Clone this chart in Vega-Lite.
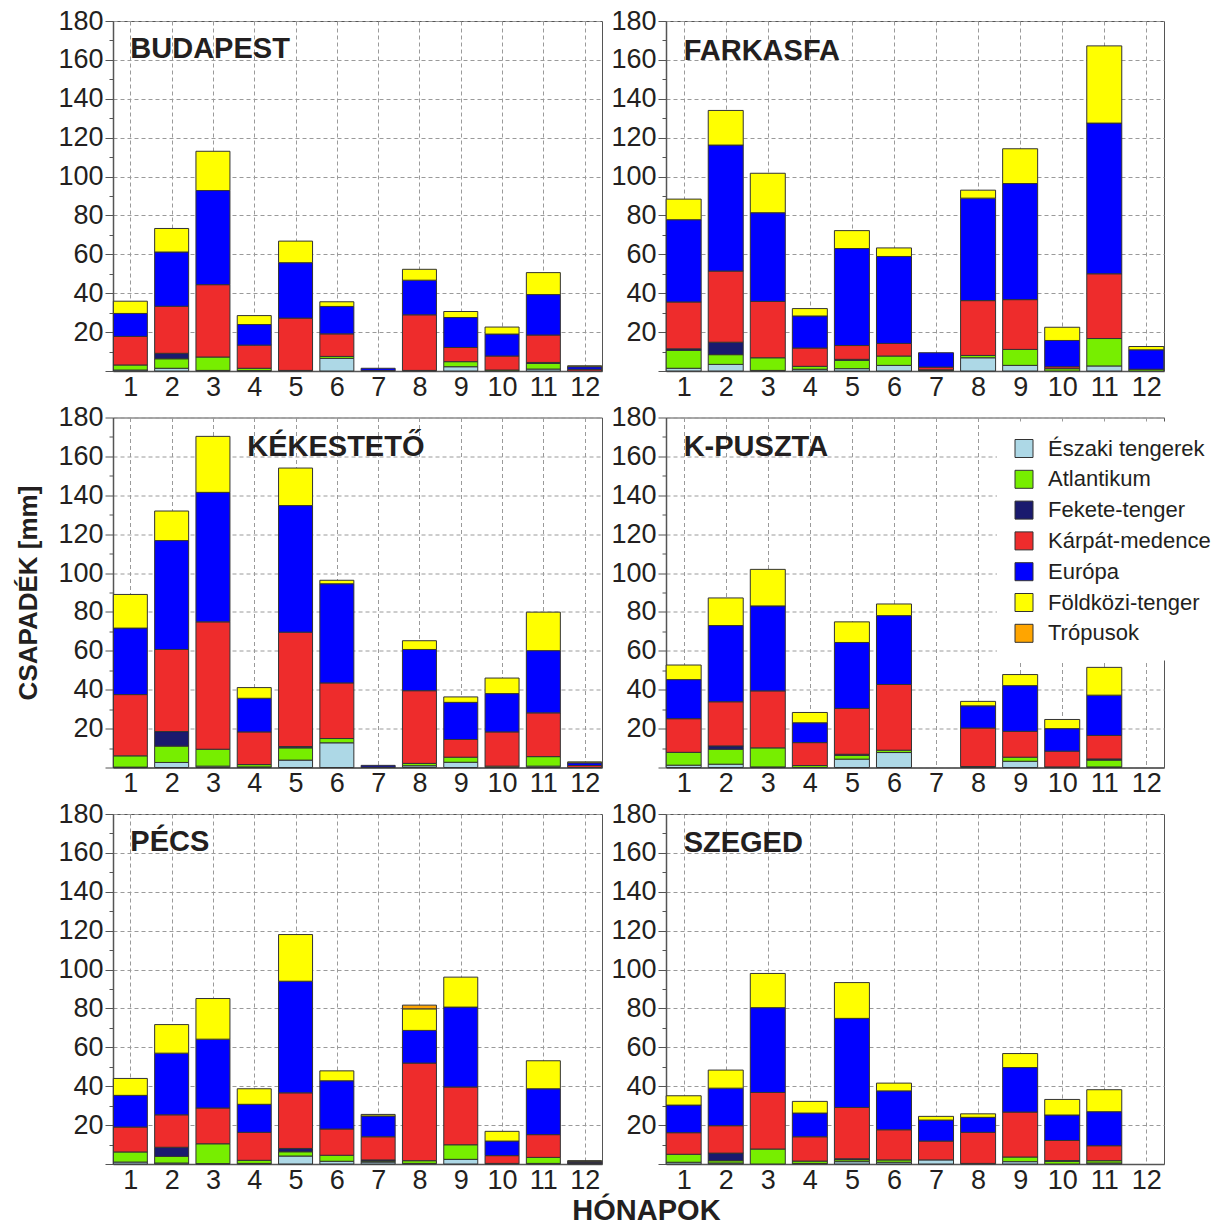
{
"$schema":"https://vega.github.io/schema/vega-lite/v6.json",
"padding":{"left":15,"top":6,"right":0,"bottom":0},
"background":"white",
"title":{"text":"HÓNAPOK","orient":"bottom","anchor":"middle","font":"Liberation Sans","fontSize":29,"fontWeight":"bold","color":"#231f20","offset":3,"dx":25},
"datasets":{
"srcs":[{"src":"Északi tengerek","k":1},{"src":"Atlantikum","k":2},{"src":"Fekete-tenger","k":3},{"src":"Kárpát-medence","k":4},{"src":"Európa","k":5},{"src":"Földközi-tenger","k":6},{"src":"Trópusok","k":7}],
"d":[
{"st":"BUDAPEST","m":1,"src":"Északi tengerek","mm":0.5},{"st":"BUDAPEST","m":1,"src":"Atlantikum","mm":2.6},{"st":"BUDAPEST","m":1,"src":"Kárpát-medence","mm":14.7},{"st":"BUDAPEST","m":1,"src":"Európa","mm":11.8},{"st":"BUDAPEST","m":1,"src":"Földközi-tenger","mm":6.3},
{"st":"BUDAPEST","m":2,"src":"Északi tengerek","mm":1.4},{"st":"BUDAPEST","m":2,"src":"Atlantikum","mm":4.9},{"st":"BUDAPEST","m":2,"src":"Fekete-tenger","mm":2.8},{"st":"BUDAPEST","m":2,"src":"Kárpát-medence","mm":24.2},{"st":"BUDAPEST","m":2,"src":"Európa","mm":27.9},{"st":"BUDAPEST","m":2,"src":"Földközi-tenger","mm":12.1},
{"st":"BUDAPEST","m":3,"src":"Északi tengerek","mm":0.3},{"st":"BUDAPEST","m":3,"src":"Atlantikum","mm":6.9},{"st":"BUDAPEST","m":3,"src":"Kárpát-medence","mm":37.2},{"st":"BUDAPEST","m":3,"src":"Európa","mm":48.4},{"st":"BUDAPEST","m":3,"src":"Földközi-tenger","mm":20.2},
{"st":"BUDAPEST","m":4,"src":"Északi tengerek","mm":0.2},{"st":"BUDAPEST","m":4,"src":"Atlantikum","mm":1.2},{"st":"BUDAPEST","m":4,"src":"Kárpát-medence","mm":11.9},{"st":"BUDAPEST","m":4,"src":"Európa","mm":10.6},{"st":"BUDAPEST","m":4,"src":"Földközi-tenger","mm":4.6},
{"st":"BUDAPEST","m":5,"src":"Atlantikum","mm":0.3},{"st":"BUDAPEST","m":5,"src":"Kárpát-medence","mm":26.9},{"st":"BUDAPEST","m":5,"src":"Európa","mm":28.5},{"st":"BUDAPEST","m":5,"src":"Földközi-tenger","mm":11.1},
{"st":"BUDAPEST","m":6,"src":"Északi tengerek","mm":6.5},{"st":"BUDAPEST","m":6,"src":"Atlantikum","mm":1.0},{"st":"BUDAPEST","m":6,"src":"Kárpát-medence","mm":11.6},{"st":"BUDAPEST","m":6,"src":"Európa","mm":14.1},{"st":"BUDAPEST","m":6,"src":"Földközi-tenger","mm":2.4},
{"st":"BUDAPEST","m":7,"src":"Kárpát-medence","mm":0.3},{"st":"BUDAPEST","m":7,"src":"Európa","mm":1.1},
{"st":"BUDAPEST","m":8,"src":"Atlantikum","mm":0.3},{"st":"BUDAPEST","m":8,"src":"Kárpát-medence","mm":28.6},{"st":"BUDAPEST","m":8,"src":"Európa","mm":17.8},{"st":"BUDAPEST","m":8,"src":"Földközi-tenger","mm":5.6},
{"st":"BUDAPEST","m":9,"src":"Északi tengerek","mm":2.2},{"st":"BUDAPEST","m":9,"src":"Atlantikum","mm":2.6},{"st":"BUDAPEST","m":9,"src":"Kárpát-medence","mm":7.3},{"st":"BUDAPEST","m":9,"src":"Európa","mm":15.4},{"st":"BUDAPEST","m":9,"src":"Földközi-tenger","mm":3.1},
{"st":"BUDAPEST","m":10,"src":"Atlantikum","mm":0.5},{"st":"BUDAPEST","m":10,"src":"Kárpát-medence","mm":7.2},{"st":"BUDAPEST","m":10,"src":"Európa","mm":11.3},{"st":"BUDAPEST","m":10,"src":"Földközi-tenger","mm":3.6},
{"st":"BUDAPEST","m":11,"src":"Északi tengerek","mm":1.0},{"st":"BUDAPEST","m":11,"src":"Atlantikum","mm":2.9},{"st":"BUDAPEST","m":11,"src":"Fekete-tenger","mm":0.5},{"st":"BUDAPEST","m":11,"src":"Kárpát-medence","mm":14.1},{"st":"BUDAPEST","m":11,"src":"Európa","mm":20.8},{"st":"BUDAPEST","m":11,"src":"Földközi-tenger","mm":11.3},
{"st":"BUDAPEST","m":12,"src":"Kárpát-medence","mm":0.9},{"st":"BUDAPEST","m":12,"src":"Európa","mm":1.3},{"st":"BUDAPEST","m":12,"src":"Földközi-tenger","mm":0.5},
{"st":"FARKASFA","m":1,"src":"Északi tengerek","mm":1.4},{"st":"FARKASFA","m":1,"src":"Atlantikum","mm":9.2},{"st":"FARKASFA","m":1,"src":"Fekete-tenger","mm":0.8},{"st":"FARKASFA","m":1,"src":"Kárpát-medence","mm":24.1},{"st":"FARKASFA","m":1,"src":"Európa","mm":42.3},{"st":"FARKASFA","m":1,"src":"Földközi-tenger","mm":10.6},
{"st":"FARKASFA","m":2,"src":"Északi tengerek","mm":3.4},{"st":"FARKASFA","m":2,"src":"Atlantikum","mm":5.0},{"st":"FARKASFA","m":2,"src":"Fekete-tenger","mm":6.4},{"st":"FARKASFA","m":2,"src":"Kárpát-medence","mm":36.6},{"st":"FARKASFA","m":2,"src":"Európa","mm":64.8},{"st":"FARKASFA","m":2,"src":"Földközi-tenger","mm":17.8},
{"st":"FARKASFA","m":3,"src":"Északi tengerek","mm":0.3},{"st":"FARKASFA","m":3,"src":"Atlantikum","mm":6.5},{"st":"FARKASFA","m":3,"src":"Kárpát-medence","mm":29.0},{"st":"FARKASFA","m":3,"src":"Európa","mm":45.6},{"st":"FARKASFA","m":3,"src":"Földközi-tenger","mm":20.3},
{"st":"FARKASFA","m":4,"src":"Északi tengerek","mm":0.9},{"st":"FARKASFA","m":4,"src":"Atlantikum","mm":1.5},{"st":"FARKASFA","m":4,"src":"Kárpát-medence","mm":9.4},{"st":"FARKASFA","m":4,"src":"Európa","mm":16.5},{"st":"FARKASFA","m":4,"src":"Földközi-tenger","mm":3.8},
{"st":"FARKASFA","m":5,"src":"Északi tengerek","mm":1.2},{"st":"FARKASFA","m":5,"src":"Atlantikum","mm":4.3},{"st":"FARKASFA","m":5,"src":"Fekete-tenger","mm":0.5},{"st":"FARKASFA","m":5,"src":"Kárpát-medence","mm":7.1},{"st":"FARKASFA","m":5,"src":"Európa","mm":49.9},{"st":"FARKASFA","m":5,"src":"Földközi-tenger","mm":9.2},
{"st":"FARKASFA","m":6,"src":"Északi tengerek","mm":2.9},{"st":"FARKASFA","m":6,"src":"Atlantikum","mm":4.8},{"st":"FARKASFA","m":6,"src":"Kárpát-medence","mm":6.5},{"st":"FARKASFA","m":6,"src":"Európa","mm":44.7},{"st":"FARKASFA","m":6,"src":"Földközi-tenger","mm":4.4},
{"st":"FARKASFA","m":7,"src":"Északi tengerek","mm":0.3},{"st":"FARKASFA","m":7,"src":"Atlantikum","mm":0.3},{"st":"FARKASFA","m":7,"src":"Kárpát-medence","mm":1.4},{"st":"FARKASFA","m":7,"src":"Európa","mm":7.4},
{"st":"FARKASFA","m":8,"src":"Északi tengerek","mm":6.8},{"st":"FARKASFA","m":8,"src":"Atlantikum","mm":1.2},{"st":"FARKASFA","m":8,"src":"Kárpát-medence","mm":28.2},{"st":"FARKASFA","m":8,"src":"Európa","mm":52.7},{"st":"FARKASFA","m":8,"src":"Földközi-tenger","mm":4.1},
{"st":"FARKASFA","m":9,"src":"Északi tengerek","mm":2.9},{"st":"FARKASFA","m":9,"src":"Atlantikum","mm":8.2},{"st":"FARKASFA","m":9,"src":"Kárpát-medence","mm":25.6},{"st":"FARKASFA","m":9,"src":"Európa","mm":59.7},{"st":"FARKASFA","m":9,"src":"Földközi-tenger","mm":17.9},
{"st":"FARKASFA","m":10,"src":"Atlantikum","mm":1.2},{"st":"FARKASFA","m":10,"src":"Kárpát-medence","mm":1.0},{"st":"FARKASFA","m":10,"src":"Európa","mm":13.5},{"st":"FARKASFA","m":10,"src":"Földközi-tenger","mm":6.8},
{"st":"FARKASFA","m":11,"src":"Északi tengerek","mm":2.6},{"st":"FARKASFA","m":11,"src":"Atlantikum","mm":14.1},{"st":"FARKASFA","m":11,"src":"Kárpát-medence","mm":33.3},{"st":"FARKASFA","m":11,"src":"Európa","mm":77.5},{"st":"FARKASFA","m":11,"src":"Földközi-tenger","mm":39.7},
{"st":"FARKASFA","m":12,"src":"Atlantikum","mm":0.9},{"st":"FARKASFA","m":12,"src":"Európa","mm":10.0},{"st":"FARKASFA","m":12,"src":"Földközi-tenger","mm":1.7},
{"st":"KÉKESTETŐ","m":1,"src":"Északi tengerek","mm":0.2},{"st":"KÉKESTETŐ","m":1,"src":"Atlantikum","mm":5.8},{"st":"KÉKESTETŐ","m":1,"src":"Kárpát-medence","mm":31.5},{"st":"KÉKESTETŐ","m":1,"src":"Európa","mm":34.2},{"st":"KÉKESTETŐ","m":1,"src":"Földközi-tenger","mm":17.3},
{"st":"KÉKESTETŐ","m":2,"src":"Északi tengerek","mm":2.6},{"st":"KÉKESTETŐ","m":2,"src":"Atlantikum","mm":8.4},{"st":"KÉKESTETŐ","m":2,"src":"Fekete-tenger","mm":7.5},{"st":"KÉKESTETŐ","m":2,"src":"Kárpát-medence","mm":42.2},{"st":"KÉKESTETŐ","m":2,"src":"Európa","mm":56.0},{"st":"KÉKESTETŐ","m":2,"src":"Földközi-tenger","mm":15.2},
{"st":"KÉKESTETŐ","m":3,"src":"Északi tengerek","mm":0.7},{"st":"KÉKESTETŐ","m":3,"src":"Atlantikum","mm":8.7},{"st":"KÉKESTETŐ","m":3,"src":"Kárpát-medence","mm":65.5},{"st":"KÉKESTETŐ","m":3,"src":"Európa","mm":66.6},{"st":"KÉKESTETŐ","m":3,"src":"Földközi-tenger","mm":28.8},
{"st":"KÉKESTETŐ","m":4,"src":"Északi tengerek","mm":0.3},{"st":"KÉKESTETŐ","m":4,"src":"Atlantikum","mm":1.2},{"st":"KÉKESTETŐ","m":4,"src":"Kárpát-medence","mm":16.8},{"st":"KÉKESTETŐ","m":4,"src":"Európa","mm":17.3},{"st":"KÉKESTETŐ","m":4,"src":"Földközi-tenger","mm":5.5},
{"st":"KÉKESTETŐ","m":5,"src":"Északi tengerek","mm":3.8},{"st":"KÉKESTETŐ","m":5,"src":"Atlantikum","mm":6.3},{"st":"KÉKESTETŐ","m":5,"src":"Fekete-tenger","mm":0.7},{"st":"KÉKESTETŐ","m":5,"src":"Kárpát-medence","mm":58.8},{"st":"KÉKESTETŐ","m":5,"src":"Európa","mm":65.1},{"st":"KÉKESTETŐ","m":5,"src":"Földközi-tenger","mm":19.3},
{"st":"KÉKESTETŐ","m":6,"src":"Északi tengerek","mm":12.7},{"st":"KÉKESTETŐ","m":6,"src":"Atlantikum","mm":2.2},{"st":"KÉKESTETŐ","m":6,"src":"Kárpát-medence","mm":28.6},{"st":"KÉKESTETŐ","m":6,"src":"Európa","mm":51.0},{"st":"KÉKESTETŐ","m":6,"src":"Földközi-tenger","mm":1.8},
{"st":"KÉKESTETŐ","m":7,"src":"Fekete-tenger","mm":0.3},{"st":"KÉKESTETŐ","m":7,"src":"Európa","mm":0.8},
{"st":"KÉKESTETŐ","m":8,"src":"Északi tengerek","mm":0.9},{"st":"KÉKESTETŐ","m":8,"src":"Atlantikum","mm":1.2},{"st":"KÉKESTETŐ","m":8,"src":"Kárpát-medence","mm":37.4},{"st":"KÉKESTETŐ","m":8,"src":"Európa","mm":21.2},{"st":"KÉKESTETŐ","m":8,"src":"Földközi-tenger","mm":4.5},
{"st":"KÉKESTETŐ","m":9,"src":"Északi tengerek","mm":2.7},{"st":"KÉKESTETŐ","m":9,"src":"Atlantikum","mm":2.6},{"st":"KÉKESTETŐ","m":9,"src":"Kárpát-medence","mm":9.1},{"st":"KÉKESTETŐ","m":9,"src":"Európa","mm":19.1},{"st":"KÉKESTETŐ","m":9,"src":"Földközi-tenger","mm":2.8},
{"st":"KÉKESTETŐ","m":10,"src":"Atlantikum","mm":0.7},{"st":"KÉKESTETŐ","m":10,"src":"Kárpát-medence","mm":17.6},{"st":"KÉKESTETŐ","m":10,"src":"Európa","mm":19.7},{"st":"KÉKESTETŐ","m":10,"src":"Földközi-tenger","mm":8.0},
{"st":"KÉKESTETŐ","m":11,"src":"Északi tengerek","mm":0.7},{"st":"KÉKESTETŐ","m":11,"src":"Atlantikum","mm":4.9},{"st":"KÉKESTETŐ","m":11,"src":"Kárpát-medence","mm":22.5},{"st":"KÉKESTETŐ","m":11,"src":"Európa","mm":32.0},{"st":"KÉKESTETŐ","m":11,"src":"Földközi-tenger","mm":19.8},
{"st":"KÉKESTETŐ","m":12,"src":"Kárpát-medence","mm":1.0},{"st":"KÉKESTETŐ","m":12,"src":"Európa","mm":1.4},{"st":"KÉKESTETŐ","m":12,"src":"Földközi-tenger","mm":0.5},
{"st":"K-PUSZTA","m":1,"src":"Északi tengerek","mm":1.2},{"st":"K-PUSZTA","m":1,"src":"Atlantikum","mm":6.6},{"st":"K-PUSZTA","m":1,"src":"Kárpát-medence","mm":17.3},{"st":"K-PUSZTA","m":1,"src":"Európa","mm":20.1},{"st":"K-PUSZTA","m":1,"src":"Földközi-tenger","mm":7.5},
{"st":"K-PUSZTA","m":2,"src":"Északi tengerek","mm":1.7},{"st":"K-PUSZTA","m":2,"src":"Atlantikum","mm":7.7},{"st":"K-PUSZTA","m":2,"src":"Fekete-tenger","mm":1.7},{"st":"K-PUSZTA","m":2,"src":"Kárpát-medence","mm":22.7},{"st":"K-PUSZTA","m":2,"src":"Európa","mm":39.2},{"st":"K-PUSZTA","m":2,"src":"Földközi-tenger","mm":14.2},
{"st":"K-PUSZTA","m":3,"src":"Északi tengerek","mm":0.3},{"st":"K-PUSZTA","m":3,"src":"Atlantikum","mm":9.8},{"st":"K-PUSZTA","m":3,"src":"Kárpát-medence","mm":29.3},{"st":"K-PUSZTA","m":3,"src":"Európa","mm":43.7},{"st":"K-PUSZTA","m":3,"src":"Földközi-tenger","mm":18.8},
{"st":"K-PUSZTA","m":4,"src":"Atlantikum","mm":1.0},{"st":"K-PUSZTA","m":4,"src":"Kárpát-medence","mm":11.8},{"st":"K-PUSZTA","m":4,"src":"Európa","mm":10.2},{"st":"K-PUSZTA","m":4,"src":"Földközi-tenger","mm":5.3},
{"st":"K-PUSZTA","m":5,"src":"Északi tengerek","mm":4.3},{"st":"K-PUSZTA","m":5,"src":"Atlantikum","mm":2.0},{"st":"K-PUSZTA","m":5,"src":"Fekete-tenger","mm":0.5},{"st":"K-PUSZTA","m":5,"src":"Kárpát-medence","mm":23.6},{"st":"K-PUSZTA","m":5,"src":"Európa","mm":33.9},{"st":"K-PUSZTA","m":5,"src":"Földközi-tenger","mm":10.6},
{"st":"K-PUSZTA","m":6,"src":"Északi tengerek","mm":7.7},{"st":"K-PUSZTA","m":6,"src":"Atlantikum","mm":1.2},{"st":"K-PUSZTA","m":6,"src":"Kárpát-medence","mm":33.8},{"st":"K-PUSZTA","m":6,"src":"Európa","mm":35.4},{"st":"K-PUSZTA","m":6,"src":"Földközi-tenger","mm":6.0},
{"st":"K-PUSZTA","m":8,"src":"Atlantikum","mm":0.5},{"st":"K-PUSZTA","m":8,"src":"Kárpát-medence","mm":19.8},{"st":"K-PUSZTA","m":8,"src":"Európa","mm":11.4},{"st":"K-PUSZTA","m":8,"src":"Földközi-tenger","mm":2.3},
{"st":"K-PUSZTA","m":9,"src":"Északi tengerek","mm":3.2},{"st":"K-PUSZTA","m":9,"src":"Atlantikum","mm":2.1},{"st":"K-PUSZTA","m":9,"src":"Kárpát-medence","mm":13.3},{"st":"K-PUSZTA","m":9,"src":"Európa","mm":23.5},{"st":"K-PUSZTA","m":9,"src":"Földközi-tenger","mm":5.7},
{"st":"K-PUSZTA","m":10,"src":"Atlantikum","mm":0.3},{"st":"K-PUSZTA","m":10,"src":"Kárpát-medence","mm":8.1},{"st":"K-PUSZTA","m":10,"src":"Európa","mm":11.6},{"st":"K-PUSZTA","m":10,"src":"Földközi-tenger","mm":4.7},
{"st":"K-PUSZTA","m":11,"src":"Északi tengerek","mm":0.3},{"st":"K-PUSZTA","m":11,"src":"Atlantikum","mm":3.5},{"st":"K-PUSZTA","m":11,"src":"Fekete-tenger","mm":0.6},{"st":"K-PUSZTA","m":11,"src":"Kárpát-medence","mm":12.1},{"st":"K-PUSZTA","m":11,"src":"Európa","mm":20.7},{"st":"K-PUSZTA","m":11,"src":"Földközi-tenger","mm":14.3},
{"st":"PÉCS","m":1,"src":"Északi tengerek","mm":1.0},{"st":"PÉCS","m":1,"src":"Atlantikum","mm":5.2},{"st":"PÉCS","m":1,"src":"Kárpát-medence","mm":12.8},{"st":"PÉCS","m":1,"src":"Európa","mm":16.3},{"st":"PÉCS","m":1,"src":"Földközi-tenger","mm":8.7},
{"st":"PÉCS","m":2,"src":"Északi tengerek","mm":0.5},{"st":"PÉCS","m":2,"src":"Atlantikum","mm":3.4},{"st":"PÉCS","m":2,"src":"Fekete-tenger","mm":4.7},{"st":"PÉCS","m":2,"src":"Kárpát-medence","mm":16.7},{"st":"PÉCS","m":2,"src":"Európa","mm":31.7},{"st":"PÉCS","m":2,"src":"Földközi-tenger","mm":14.7},
{"st":"PÉCS","m":3,"src":"Északi tengerek","mm":0.2},{"st":"PÉCS","m":3,"src":"Atlantikum","mm":10.2},{"st":"PÉCS","m":3,"src":"Kárpát-medence","mm":18.4},{"st":"PÉCS","m":3,"src":"Európa","mm":35.4},{"st":"PÉCS","m":3,"src":"Földközi-tenger","mm":20.9},
{"st":"PÉCS","m":4,"src":"Északi tengerek","mm":0.3},{"st":"PÉCS","m":4,"src":"Atlantikum","mm":1.6},{"st":"PÉCS","m":4,"src":"Kárpát-medence","mm":14.4},{"st":"PÉCS","m":4,"src":"Európa","mm":14.4},{"st":"PÉCS","m":4,"src":"Földközi-tenger","mm":8.0},
{"st":"PÉCS","m":5,"src":"Északi tengerek","mm":4.1},{"st":"PÉCS","m":5,"src":"Atlantikum","mm":2.2},{"st":"PÉCS","m":5,"src":"Fekete-tenger","mm":1.7},{"st":"PÉCS","m":5,"src":"Kárpát-medence","mm":28.6},{"st":"PÉCS","m":5,"src":"Európa","mm":57.4},{"st":"PÉCS","m":5,"src":"Földközi-tenger","mm":24.0},
{"st":"PÉCS","m":6,"src":"Északi tengerek","mm":1.4},{"st":"PÉCS","m":6,"src":"Atlantikum","mm":3.1},{"st":"PÉCS","m":6,"src":"Kárpát-medence","mm":13.5},{"st":"PÉCS","m":6,"src":"Európa","mm":24.8},{"st":"PÉCS","m":6,"src":"Földközi-tenger","mm":5.1},
{"st":"PÉCS","m":7,"src":"Északi tengerek","mm":1.0},{"st":"PÉCS","m":7,"src":"Atlantikum","mm":0.5},{"st":"PÉCS","m":7,"src":"Fekete-tenger","mm":0.6},{"st":"PÉCS","m":7,"src":"Kárpát-medence","mm":11.9},{"st":"PÉCS","m":7,"src":"Európa","mm":10.7},{"st":"PÉCS","m":7,"src":"Földközi-tenger","mm":0.8},
{"st":"PÉCS","m":8,"src":"Északi tengerek","mm":0.3},{"st":"PÉCS","m":8,"src":"Atlantikum","mm":1.4},{"st":"PÉCS","m":8,"src":"Kárpát-medence","mm":50.2},{"st":"PÉCS","m":8,"src":"Európa","mm":16.8},{"st":"PÉCS","m":8,"src":"Földközi-tenger","mm":11.1},{"st":"PÉCS","m":8,"src":"Trópusok","mm":1.9},
{"st":"PÉCS","m":9,"src":"Északi tengerek","mm":2.4},{"st":"PÉCS","m":9,"src":"Atlantikum","mm":7.5},{"st":"PÉCS","m":9,"src":"Kárpát-medence","mm":29.7},{"st":"PÉCS","m":9,"src":"Európa","mm":41.1},{"st":"PÉCS","m":9,"src":"Földközi-tenger","mm":15.4},
{"st":"PÉCS","m":10,"src":"Atlantikum","mm":0.3},{"st":"PÉCS","m":10,"src":"Kárpát-medence","mm":4.0},{"st":"PÉCS","m":10,"src":"Európa","mm":7.5},{"st":"PÉCS","m":10,"src":"Földközi-tenger","mm":5.0},
{"st":"PÉCS","m":11,"src":"Északi tengerek","mm":0.3},{"st":"PÉCS","m":11,"src":"Atlantikum","mm":3.1},{"st":"PÉCS","m":11,"src":"Kárpát-medence","mm":11.7},{"st":"PÉCS","m":11,"src":"Európa","mm":23.6},{"st":"PÉCS","m":11,"src":"Földközi-tenger","mm":14.4},
{"st":"PÉCS","m":12,"src":"Kárpát-medence","mm":0.5},{"st":"PÉCS","m":12,"src":"Fekete-tenger","mm":0.4},{"st":"PÉCS","m":12,"src":"Európa","mm":0.5},{"st":"PÉCS","m":12,"src":"Földközi-tenger","mm":0.3},
{"st":"SZEGED","m":1,"src":"Északi tengerek","mm":0.9},{"st":"SZEGED","m":1,"src":"Atlantikum","mm":4.1},{"st":"SZEGED","m":1,"src":"Kárpát-medence","mm":11.1},{"st":"SZEGED","m":1,"src":"Európa","mm":14.2},{"st":"SZEGED","m":1,"src":"Földközi-tenger","mm":4.8},
{"st":"SZEGED","m":2,"src":"Északi tengerek","mm":0.5},{"st":"SZEGED","m":2,"src":"Atlantikum","mm":1.2},{"st":"SZEGED","m":2,"src":"Fekete-tenger","mm":3.9},{"st":"SZEGED","m":2,"src":"Kárpát-medence","mm":14.1},{"st":"SZEGED","m":2,"src":"Európa","mm":19.3},{"st":"SZEGED","m":2,"src":"Földközi-tenger","mm":9.3},
{"st":"SZEGED","m":3,"src":"Atlantikum","mm":7.7},{"st":"SZEGED","m":3,"src":"Kárpát-medence","mm":29.1},{"st":"SZEGED","m":3,"src":"Európa","mm":43.6},{"st":"SZEGED","m":3,"src":"Földközi-tenger","mm":17.6},
{"st":"SZEGED","m":4,"src":"Északi tengerek","mm":0.3},{"st":"SZEGED","m":4,"src":"Atlantikum","mm":1.2},{"st":"SZEGED","m":4,"src":"Kárpát-medence","mm":12.5},{"st":"SZEGED","m":4,"src":"Európa","mm":12.2},{"st":"SZEGED","m":4,"src":"Földközi-tenger","mm":6.0},
{"st":"SZEGED","m":5,"src":"Északi tengerek","mm":1.2},{"st":"SZEGED","m":5,"src":"Atlantikum","mm":1.0},{"st":"SZEGED","m":5,"src":"Fekete-tenger","mm":0.5},{"st":"SZEGED","m":5,"src":"Kárpát-medence","mm":26.4},{"st":"SZEGED","m":5,"src":"Európa","mm":45.8},{"st":"SZEGED","m":5,"src":"Földközi-tenger","mm":18.4},
{"st":"SZEGED","m":6,"src":"Északi tengerek","mm":0.9},{"st":"SZEGED","m":6,"src":"Atlantikum","mm":1.2},{"st":"SZEGED","m":6,"src":"Kárpát-medence","mm":15.5},{"st":"SZEGED","m":6,"src":"Európa","mm":20.0},{"st":"SZEGED","m":6,"src":"Földközi-tenger","mm":4.0},
{"st":"SZEGED","m":7,"src":"Északi tengerek","mm":2.1},{"st":"SZEGED","m":7,"src":"Kárpát-medence","mm":9.7},{"st":"SZEGED","m":7,"src":"Európa","mm":10.8},{"st":"SZEGED","m":7,"src":"Földközi-tenger","mm":1.9},
{"st":"SZEGED","m":8,"src":"Atlantikum","mm":0.3},{"st":"SZEGED","m":8,"src":"Kárpát-medence","mm":16.0},{"st":"SZEGED","m":8,"src":"Európa","mm":7.7},{"st":"SZEGED","m":8,"src":"Földközi-tenger","mm":1.8},
{"st":"SZEGED","m":9,"src":"Északi tengerek","mm":1.2},{"st":"SZEGED","m":9,"src":"Atlantikum","mm":2.4},{"st":"SZEGED","m":9,"src":"Kárpát-medence","mm":23.1},{"st":"SZEGED","m":9,"src":"Európa","mm":22.9},{"st":"SZEGED","m":9,"src":"Földközi-tenger","mm":7.2},
{"st":"SZEGED","m":10,"src":"Atlantikum","mm":1.4},{"st":"SZEGED","m":10,"src":"Fekete-tenger","mm":0.4},{"st":"SZEGED","m":10,"src":"Kárpát-medence","mm":10.3},{"st":"SZEGED","m":10,"src":"Európa","mm":13.1},{"st":"SZEGED","m":10,"src":"Földközi-tenger","mm":8.0},
{"st":"SZEGED","m":11,"src":"Északi tengerek","mm":0.5},{"st":"SZEGED","m":11,"src":"Atlantikum","mm":1.2},{"st":"SZEGED","m":11,"src":"Kárpát-medence","mm":7.7},{"st":"SZEGED","m":11,"src":"Európa","mm":17.5},{"st":"SZEGED","m":11,"src":"Földközi-tenger","mm":11.3}
]},
"data":{"name":"d"},
"columns":2,
"spacing":{"row":46.5,"column":64},
"bounds":"flush",
"resolve":{"scale":{"color":"independent"},"legend":{"color":"independent"}},
"concat":[
  {"width":489,"height":350,"resolve":{"axis":{"y":"independent"}},"layer":[
   {"transform":[{"filter":"datum.st == 'BUDAPEST'"},{"lookup":"src","from":{"data":{"name":"srcs"},"key":"src","fields":["k"]}}],"mark":{"type":"bar","width":34,"stroke":"#333","strokeWidth":1},
    "encoding":{"x":{"field":"m","type":"quantitative","scale":{"domain":[0.58,12.42],"nice":false,"zero":false,"padding":0},"axis":{"values":[1,2,3,4,5,6,7,8,9,10,11,12],"format":"d","ticks":false,"labelPadding":3,"grid":true,"title":null,"labelFlush":false,"labelOverlap":false}},
     "y":{"field":"mm","type":"quantitative","stack":"zero","scale":{"domain":[0,180],"nice":false},"axis":{"orient":"left","values":[0,20,40,60,80,100,120,140,160,180],"labelExpr":"datum.value > 0 ? datum.label : ''","tickSize":8,"labelPadding":2,"title":null,"labelFlush":false,"labelOverlap":false}},
     "order":{"field":"k","type":"quantitative","sort":"ascending"},
     "color":{"field":"src","type":"nominal","scale":{"domain":["Északi tengerek","Atlantikum","Fekete-tenger","Kárpát-medence","Európa","Földközi-tenger","Trópusok"],"range":["#ADD8E6","#77EE00","#1A1A6E","#EE2C2C","#0000FF","#FFFF00","#FFA500"]},"legend":null}}},
   {"data":{"values":[{"t":"BUDAPEST"}]},"mark":{"type":"text","align":"left","baseline":"alphabetic","font":"Liberation Sans","fontSize":29,"fontWeight":"bold","color":"#231f20"},
    "encoding":{"x":{"datum":1},"y":{"datum":161,"axis":{"orient":"left","values":[10,30,50,70,90,110,130,150,170],"labels":false,"grid":false,"domain":false,"tickSize":4,"title":null}},"text":{"field":"t"}}}
  ]},
  {"width":498,"height":350,"resolve":{"axis":{"y":"independent"}},"layer":[
   {"transform":[{"filter":"datum.st == 'FARKASFA'"},{"lookup":"src","from":{"data":{"name":"srcs"},"key":"src","fields":["k"]}}],"mark":{"type":"bar","width":35,"stroke":"#333","strokeWidth":1},
    "encoding":{"x":{"field":"m","type":"quantitative","scale":{"domain":[0.58,12.42],"nice":false,"zero":false,"padding":0},"axis":{"values":[1,2,3,4,5,6,7,8,9,10,11,12],"format":"d","ticks":false,"labelPadding":3,"grid":true,"title":null,"labelFlush":false,"labelOverlap":false}},
     "y":{"field":"mm","type":"quantitative","stack":"zero","scale":{"domain":[0,180],"nice":false},"axis":{"orient":"left","values":[0,20,40,60,80,100,120,140,160,180],"labelExpr":"datum.value > 0 ? datum.label : ''","tickSize":8,"labelPadding":2,"title":null,"labelFlush":false,"labelOverlap":false}},
     "order":{"field":"k","type":"quantitative","sort":"ascending"},
     "color":{"field":"src","type":"nominal","scale":{"domain":["Északi tengerek","Atlantikum","Fekete-tenger","Kárpát-medence","Európa","Földközi-tenger","Trópusok"],"range":["#ADD8E6","#77EE00","#1A1A6E","#EE2C2C","#0000FF","#FFFF00","#FFA500"]},"legend":null}}},
   {"data":{"values":[{"t":"FARKASFA"}]},"mark":{"type":"text","align":"left","baseline":"alphabetic","font":"Liberation Sans","fontSize":29,"fontWeight":"bold","color":"#231f20"},
    "encoding":{"x":{"datum":1},"y":{"datum":160,"axis":{"orient":"left","values":[10,30,50,70,90,110,130,150,170],"labels":false,"grid":false,"domain":false,"tickSize":4,"title":null}},"text":{"field":"t"}}}
  ]},
  {"width":489,"height":350,"resolve":{"axis":{"y":"independent"}},"layer":[
    {"transform":[{"filter":"datum.st == 'KÉKESTETŐ'"},{"lookup":"src","from":{"data":{"name":"srcs"},"key":"src","fields":["k"]}}],"mark":{"type":"bar","width":34,"stroke":"#333","strokeWidth":1},
     "encoding":{"x":{"field":"m","type":"quantitative","scale":{"domain":[0.58,12.42],"nice":false,"zero":false,"padding":0},"axis":{"values":[1,2,3,4,5,6,7,8,9,10,11,12],"format":"d","ticks":false,"labelPadding":3,"grid":true,"title":null,"labelFlush":false,"labelOverlap":false}},
      "y":{"field":"mm","type":"quantitative","stack":"zero","scale":{"domain":[0,180],"nice":false},"axis":{"orient":"left","values":[0,20,40,60,80,100,120,140,160,180],"labelExpr":"datum.value > 0 ? datum.label : ''","tickSize":8,"labelPadding":2,"title":"CSAPADÉK [mm]","titleFont":"Liberation Sans","titleFontSize":26,"titleFontWeight":"bold","titleColor":"#231f20","titlePadding":16,"labelFlush":false,"labelOverlap":false}},
      "order":{"field":"k","type":"quantitative","sort":"ascending"},
      "color":{"field":"src","type":"nominal","scale":{"domain":["Északi tengerek","Atlantikum","Fekete-tenger","Kárpát-medence","Európa","Földközi-tenger","Trópusok"],"range":["#ADD8E6","#77EE00","#1A1A6E","#EE2C2C","#0000FF","#FFFF00","#FFA500"]},"legend":null}}},
    {"data":{"values":[{"t":"KÉKESTETŐ"}]},"mark":{"type":"text","align":"left","baseline":"alphabetic","font":"Liberation Sans","fontSize":29,"fontWeight":"bold","color":"#231f20"},
     "encoding":{"x":{"datum":3.83},"y":{"datum":160,"axis":{"orient":"left","values":[10,30,50,70,90,110,130,150,170],"labels":false,"grid":false,"domain":false,"tickSize":4,"title":null}},"text":{"field":"t"}}}
  ]},
  {"width":498,"height":350,"resolve":{"axis":{"y":"independent"}},"layer":[
    {"transform":[{"filter":"datum.st == 'K-PUSZTA'"},{"lookup":"src","from":{"data":{"name":"srcs"},"key":"src","fields":["k"]}}],"mark":{"type":"bar","width":35,"stroke":"#333","strokeWidth":1},
     "encoding":{"x":{"field":"m","type":"quantitative","scale":{"domain":[0.58,12.42],"nice":false,"zero":false,"padding":0},"axis":{"values":[1,2,3,4,5,6,7,8,9,10,11,12],"format":"d","ticks":false,"labelPadding":3,"grid":true,"title":null,"labelFlush":false,"labelOverlap":false}},
      "y":{"field":"mm","type":"quantitative","stack":"zero","scale":{"domain":[0,180],"nice":false},"axis":{"orient":"left","values":[0,20,40,60,80,100,120,140,160,180],"labelExpr":"datum.value > 0 ? datum.label : ''","tickSize":8,"labelPadding":2,"title":null,"labelFlush":false,"labelOverlap":false}},
      "order":{"field":"k","type":"quantitative","sort":"ascending"},
      "color":{"field":"src","type":"nominal","scale":{"domain":["Északi tengerek","Atlantikum","Fekete-tenger","Kárpát-medence","Európa","Földközi-tenger","Trópusok"],"range":["#ADD8E6","#77EE00","#1A1A6E","#EE2C2C","#0000FF","#FFFF00","#FFA500"]},
       "legend":{"orient":"none","legendX":331,"legendY":4,"title":null,"symbolType":"square","symbolSize":324,"symbolStrokeColor":"#333","symbolStrokeWidth":1,"symbolOpacity":1,"labelFont":"Liberation Sans","labelFontSize":22,"labelColor":"#231f20","labelOffset":13,"rowPadding":8.8,"padding":16,"fillColor":"white","strokeColor":null,"labelLimit":300}}}},
    {"data":{"values":[{"t":"K-PUSZTA"}]},"mark":{"type":"text","align":"left","baseline":"alphabetic","font":"Liberation Sans","fontSize":29,"fontWeight":"bold","color":"#231f20"},
     "encoding":{"x":{"datum":1},"y":{"datum":160,"axis":{"orient":"left","values":[10,30,50,70,90,110,130,150,170],"labels":false,"grid":false,"domain":false,"tickSize":4,"title":null}},"text":{"field":"t"}}}
  ]},
  {"width":489,"height":350,"resolve":{"axis":{"y":"independent"}},"layer":[
    {"transform":[{"filter":"datum.st == 'PÉCS'"},{"lookup":"src","from":{"data":{"name":"srcs"},"key":"src","fields":["k"]}}],"mark":{"type":"bar","width":34,"stroke":"#333","strokeWidth":1},
     "encoding":{"x":{"field":"m","type":"quantitative","scale":{"domain":[0.58,12.42],"nice":false,"zero":false,"padding":0},"axis":{"values":[1,2,3,4,5,6,7,8,9,10,11,12],"format":"d","ticks":false,"labelPadding":3,"grid":true,"title":null,"labelFlush":false,"labelOverlap":false}},
      "y":{"field":"mm","type":"quantitative","stack":"zero","scale":{"domain":[0,180],"nice":false},"axis":{"orient":"left","values":[0,20,40,60,80,100,120,140,160,180],"labelExpr":"datum.value > 0 ? datum.label : ''","tickSize":8,"labelPadding":2,"title":null,"labelFlush":false,"labelOverlap":false}},
      "order":{"field":"k","type":"quantitative","sort":"ascending"},
      "color":{"field":"src","type":"nominal","scale":{"domain":["Északi tengerek","Atlantikum","Fekete-tenger","Kárpát-medence","Európa","Földközi-tenger","Trópusok"],"range":["#ADD8E6","#77EE00","#1A1A6E","#EE2C2C","#0000FF","#FFFF00","#FFA500"]},"legend":null}}},
    {"data":{"values":[{"t":"PÉCS"}]},"mark":{"type":"text","align":"left","baseline":"alphabetic","font":"Liberation Sans","fontSize":29,"fontWeight":"bold","color":"#231f20"},
     "encoding":{"x":{"datum":1},"y":{"datum":161,"axis":{"orient":"left","values":[10,30,50,70,90,110,130,150,170],"labels":false,"grid":false,"domain":false,"tickSize":4,"title":null}},"text":{"field":"t"}}}
  ]},
  {"width":498,"height":350,"resolve":{"axis":{"y":"independent"}},"layer":[
    {"transform":[{"filter":"datum.st == 'SZEGED'"},{"lookup":"src","from":{"data":{"name":"srcs"},"key":"src","fields":["k"]}}],"mark":{"type":"bar","width":35,"stroke":"#333","strokeWidth":1},
     "encoding":{"x":{"field":"m","type":"quantitative","scale":{"domain":[0.58,12.42],"nice":false,"zero":false,"padding":0},"axis":{"values":[1,2,3,4,5,6,7,8,9,10,11,12],"format":"d","ticks":false,"labelPadding":3,"grid":true,"title":null,"labelFlush":false,"labelOverlap":false}},
      "y":{"field":"mm","type":"quantitative","stack":"zero","scale":{"domain":[0,180],"nice":false},"axis":{"orient":"left","values":[0,20,40,60,80,100,120,140,160,180],"labelExpr":"datum.value > 0 ? datum.label : ''","tickSize":8,"labelPadding":2,"title":null,"labelFlush":false,"labelOverlap":false}},
      "order":{"field":"k","type":"quantitative","sort":"ascending"},
      "color":{"field":"src","type":"nominal","scale":{"domain":["Északi tengerek","Atlantikum","Fekete-tenger","Kárpát-medence","Európa","Földközi-tenger","Trópusok"],"range":["#ADD8E6","#77EE00","#1A1A6E","#EE2C2C","#0000FF","#FFFF00","#FFA500"]},"legend":null}}},
    {"data":{"values":[{"t":"SZEGED"}]},"mark":{"type":"text","align":"left","baseline":"alphabetic","font":"Liberation Sans","fontSize":29,"fontWeight":"bold","color":"#231f20"},
     "encoding":{"x":{"datum":1},"y":{"datum":160.5,"axis":{"orient":"left","values":[10,30,50,70,90,110,130,150,170],"labels":false,"grid":false,"domain":false,"tickSize":4,"title":null}},"text":{"field":"t"}}}
  ]}
],
"config":{
 "view":{"stroke":"#555","strokeWidth":1},
 "axis":{"labelFont":"Liberation Sans","labelFontSize":27,"labelColor":"#231f20","domainColor":"#555","domainWidth":1.5,"tickColor":"#555","tickWidth":1,"gridColor":"#9a9a9a","gridDash":[4,3],"gridWidth":1}
}
}
